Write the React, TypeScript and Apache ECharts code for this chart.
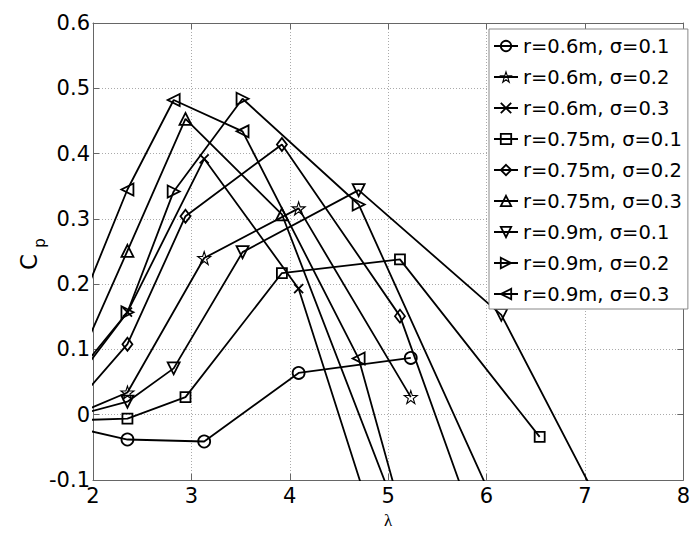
import React, { useEffect, useRef } from "react";
import * as echarts from "echarts";

// Tip-speed ratio samples for each rotor radius
const lambda06 = [1.5, 2.35, 3.13, 4.09, 5.23];
const lambda075 = [1.5, 2.35, 2.94, 3.92, 5.12, 6.54];
const lambda09 = [1.5, 2.35, 2.82, 3.52, 4.7, 6.15, 7.9];

// Power coefficient for each radius / solidity pair
const cp06s01 = [-0.009, -0.038, -0.041, 0.064, 0.087];
const cp06s02 = [-0.02, 0.034, 0.24, 0.316, 0.027];
const cp06s03 = [0.0, 0.157, 0.392, 0.193, -0.345];
const cp075s01 = [-0.01, -0.006, 0.027, 0.217, 0.238, -0.034];
const cp075s02 = [-0.039, 0.108, 0.304, 0.414, 0.151, -0.447];
const cp075s03 = [-0.038, 0.251, 0.453, 0.307, -0.162];
const cp09s01 = [-0.014, 0.02, 0.071, 0.249, 0.344, 0.153, -0.355];
const cp09s02 = [-0.012, 0.157, 0.342, 0.484, 0.322, -0.16];
const cp09s03 = [0.03, 0.345, 0.482, 0.434, 0.086, -0.7];

const seriesNames = [
  "r=0.6m, σ=0.1",
  "r=0.6m, σ=0.2",
  "r=0.6m, σ=0.3",
  "r=0.75m, σ=0.1",
  "r=0.75m, σ=0.2",
  "r=0.75m, σ=0.3",
  "r=0.9m, σ=0.1",
  "r=0.9m, σ=0.2",
  "r=0.9m, σ=0.3",
];

const xTicks = { min: 2, max: 8, interval: 1 };
const yTicks = { min: -0.1, max: 0.6, interval: 0.1 };

const STAR =
  "path://M50 0 L61.23 34.55 L97.55 34.55 L68.16 55.9 L79.39 90.45 L50 69.1 L20.61 90.45 L31.84 55.9 L2.45 34.55 L38.77 34.55 Z";
const XMARK = "path://M0 0 L10 10 M10 0 L0 10";
const TRI_DOWN = "path://M0 0 L10 0 L5 10 Z";
const TRI_RIGHT = "path://M0 0 L10 5 L0 10 Z";
const TRI_LEFT = "path://M10 0 L0 5 L10 10 Z";

const markers: { symbol: string; size: number | number[]; stroke: number }[] = [
  { symbol: "circle", size: 12, stroke: 1.8 },
  { symbol: STAR, size: 13, stroke: 1.1 },
  { symbol: XMARK, size: 9, stroke: 1.8 },
  { symbol: "rect", size: 10, stroke: 1.8 },
  { symbol: "diamond", size: [10, 13], stroke: 1.8 },
  { symbol: "triangle", size: 12, stroke: 1.8 },
  { symbol: TRI_DOWN, size: 12, stroke: 1.8 },
  { symbol: TRI_RIGHT, size: 12, stroke: 1.8 },
  { symbol: TRI_LEFT, size: 12, stroke: 1.8 },
];

const curves: [number[], number[]][] = [
  [lambda06, cp06s01],
  [lambda06, cp06s02],
  [lambda06, cp06s03],
  [lambda075, cp075s01],
  [lambda075, cp075s02],
  [lambda075, cp075s03],
  [lambda09, cp09s01],
  [lambda09, cp09s02],
  [lambda09, cp09s03],
];

const FONT = "DejaVu Sans";
const AXIS_COLOR = "#666";

function boxAxis(base: any, position: string) {
  return {
    type: "value",
    ...base,
    position,
    axisLine: { show: true, onZero: false, lineStyle: { color: AXIS_COLOR, width: 1 } },
    axisTick: { show: true, inside: true, length: 6, lineStyle: { color: AXIS_COLOR } },
    axisLabel: { show: false },
    splitLine: { show: false },
  };
}

export default function App() {
  const ref = useRef<HTMLDivElement>(null);

  useEffect(() => {
    if (!ref.current) return;
    const chart = echarts.init(ref.current, undefined, { renderer: "svg" });

    const series = curves.map(([xs, ys], i) => ({
      type: "line",
      name: seriesNames[i],
      data: xs.slice(0, ys.length).map((x, j) => [x, ys[j]]),
      symbol: markers[i].symbol,
      symbolSize: markers[i].size,
      showSymbol: true,
      showAllSymbol: true,
      clip: true,
      lineStyle: { color: "#000", width: 1.8 },
      itemStyle: {
        color: "rgba(0,0,0,0)",
        borderColor: "#000",
        borderWidth: markers[i].stroke,
      },
      emphasis: { disabled: true },
    }));

    chart.setOption({
      animation: false,
      backgroundColor: "#fff",
      grid: { left: 93, right: 4, top: 23, bottom: 46 },
      xAxis: [
        {
          type: "value",
          ...xTicks,
          position: "bottom",
          axisLine: { show: true, onZero: false, lineStyle: { color: AXIS_COLOR, width: 1 } },
          axisTick: { show: true, inside: true, length: 6, lineStyle: { color: AXIS_COLOR } },
          axisLabel: { color: "#000", fontSize: 21, fontFamily: FONT, margin: 5 },
          splitLine: { show: true, lineStyle: { color: "#aaa", type: [1, 2], width: 1 } },
          name: "λ",
          nameLocation: "middle",
          nameGap: 32,
          nameTextStyle: { color: "#000", fontSize: 17, fontFamily: "Liberation Serif" },
        },
        boxAxis(xTicks, "top"),
      ],
      yAxis: [
        {
          type: "value",
          ...yTicks,
          position: "left",
          axisLine: { show: true, onZero: false, lineStyle: { color: AXIS_COLOR, width: 1 } },
          axisTick: { show: true, inside: true, length: 6, lineStyle: { color: AXIS_COLOR } },
          axisLabel: { color: "#000", fontSize: 21, fontFamily: FONT, margin: 3 },
          splitLine: { show: true, lineStyle: { color: "#aaa", type: [1, 2], width: 1 } },
        },
        boxAxis(yTicks, "right"),
      ],
      legend: {
        orient: "vertical",
        left: 489,
        top: 29,
        padding: [7, 6, 5, 4],
        itemWidth: 24,
        itemHeight: 13,
        itemGap: 11,
        backgroundColor: "#fff",
        borderColor: "#888",
        borderWidth: 1,
        textStyle: { color: "#000", fontFamily: FONT, fontSize: 19.5, lineHeight: 20 },
        data: seriesNames.map((name, i) => ({
          name,
          itemStyle: { color: "rgba(0,0,0,0)", borderColor: "#000", borderWidth: markers[i].stroke },
        })),
      },
      graphic: [
        {
          type: "text",
          x: 29,
          y: 262,
          rotation: Math.PI / 2,
          style: {
            text: "C",
            fontSize: 23,
            fontFamily: FONT,
            fill: "#000",
            align: "center",
            verticalAlign: "middle",
          },
        },
        {
          type: "text",
          x: 40,
          y: 243,
          rotation: Math.PI / 2,
          style: {
            text: "p",
            fontSize: 15,
            fontFamily: FONT,
            fill: "#000",
            align: "center",
            verticalAlign: "middle",
          },
        },
      ],
      series,
    });

    return () => chart.dispose();
  }, []);

  return (
    <div
      ref={ref}
      style={{ position: "fixed", left: 0, top: 0, width: 693, height: 534, background: "#fff" }}
    />
  );
}
